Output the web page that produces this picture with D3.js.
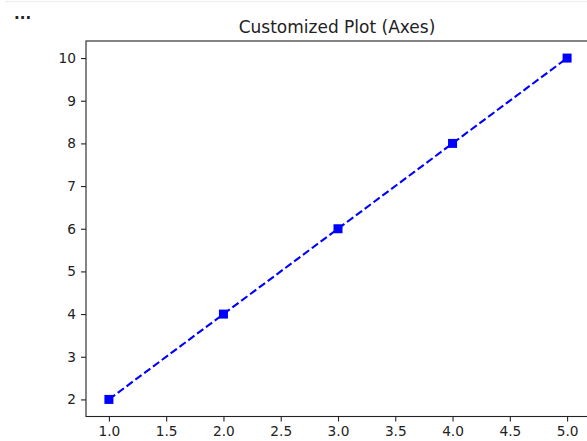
<!DOCTYPE html>
<html>
<head>
<meta charset="utf-8">
<script src="https://cdn.jsdelivr.net/npm/d3@7"></script>
<style>
  html, body { margin: 0; padding: 0; background: #fff; }
  svg { display: block; }
  text { font-family: "DejaVu Sans", sans-serif; fill: #222; }
</style>
</head>
<body>
<svg id="chart" width="587" height="441"></svg>
<script>
// Data
const xValues = [1, 2, 3, 4, 5];
const yValues = [2, 4, 6, 8, 10];
const xTicks = [1.0, 1.5, 2.0, 2.5, 3.0, 3.5, 4.0, 4.5, 5.0];
const yTicks = [2, 3, 4, 5, 6, 7, 8, 9, 10];
const titleText = "Customized Plot (Axes)";

const svg = d3.select("#chart");

// Plot area
const plotLeft = 86, plotRight = 590, plotTop = 41, plotBottom = 416.5;

const x = d3.scaleLinear().domain([0.8, 5.2]).range([plotLeft, plotRight]);
const y = d3.scaleLinear().domain([1.6, 10.4]).range([plotBottom, plotTop]);

// Faint separator and ellipsis at top
svg.append("line")
  .attr("x1", 5).attr("x2", 587).attr("y1", 1.5).attr("y2", 1.5)
  .attr("stroke", "#ececec").attr("stroke-width", 1);
svg.append("text")
  .attr("x", 14).attr("y", 19)
  .style("font-size", "15px").style("font-weight", "bold").style("fill", "#222")
  .text("...");

// Axes frame
svg.append("rect")
  .attr("x", plotLeft).attr("y", plotTop)
  .attr("width", plotRight - plotLeft).attr("height", plotBottom - plotTop)
  .attr("fill", "none").attr("stroke", "#222").attr("stroke-width", 1.1);

// X axis
const xAxis = d3.axisBottom(x).tickValues(xTicks)
  .tickFormat(d3.format(".1f")).tickSize(5).tickPadding(5);
const gx = svg.append("g").attr("transform", `translate(0,${plotBottom})`).call(xAxis);
gx.select(".domain").remove();
gx.selectAll(".tick line").attr("stroke", "#222").attr("stroke-width", 1.1);
gx.selectAll(".tick text").style("font-size", "13.7px").style("font-family", "DejaVu Sans, sans-serif").attr("fill", "#222");

// Y axis
const yAxis = d3.axisLeft(y).tickValues(yTicks)
  .tickFormat(d3.format("d")).tickSize(5).tickPadding(5);
const gy = svg.append("g").attr("transform", `translate(${plotLeft},0)`).call(yAxis);
gy.select(".domain").remove();
gy.selectAll(".tick line").attr("stroke", "#222").attr("stroke-width", 1.1);
gy.selectAll(".tick text").style("font-size", "13.7px").style("font-family", "DejaVu Sans, sans-serif").attr("fill", "#222");

// Title
svg.append("text")
  .attr("x", (plotLeft + plotRight) / 2 - 1).attr("y", 33)
  .attr("text-anchor", "middle")
  .style("font-size", "17px")
  .text(titleText);

// Data line
const pts = xValues.map((v, i) => [v, yValues[i]]);
svg.append("path")
  .datum(pts)
  .attr("fill", "none")
  .attr("stroke", "#0000ff")
  .attr("stroke-width", 2.1)
  .attr("stroke-dasharray", "7.7,3.3")
  .attr("d", d3.line().x(d => x(d[0])).y(d => y(d[1])));

// Square markers
const ms = 9;
svg.append("g").selectAll("rect")
  .data(pts)
  .join("rect")
  .attr("x", d => x(d[0]) - ms / 2)
  .attr("y", d => y(d[1]) - ms / 2)
  .attr("width", ms).attr("height", ms)
  .attr("fill", "#0000ff");
</script>
</body>
</html>
